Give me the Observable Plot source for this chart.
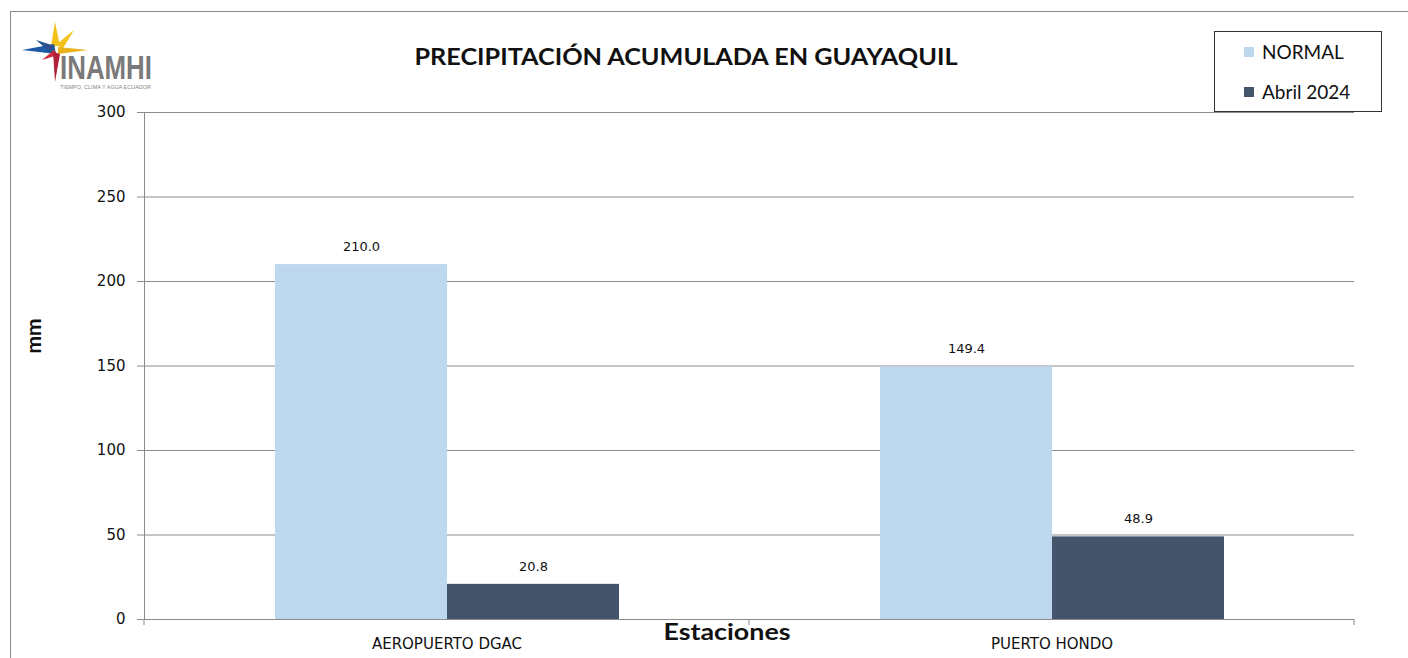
<!DOCTYPE html>
<html>
<head>
<meta charset="utf-8">
<script src="https://cdn.jsdelivr.net/npm/d3@7"></script>
<script src="https://cdn.jsdelivr.net/npm/@observablehq/plot@0.6"></script>
<style>
  html, body { margin: 0; padding: 0; background: #fff; }
  #wrap { position: relative; width: 1408px; height: 658px; overflow: hidden; }
  #border { position: absolute; left: 10px; top: 11px; width: 1420px; height: 700px; border: 1px solid #8a8a8a; box-sizing: border-box; }
  #chart { position: absolute; left: 0; top: 0; }
  #overlay { position: absolute; left: 0; top: 0; pointer-events: none; }
  #legend { position: absolute; left: 1214px; top: 31px; width: 168px; height: 81px; border: 1px solid #333; box-sizing: border-box; background: #fff;
            font-family: Lato, "Open Sans", sans-serif; font-size: 19px; color: #111; }
  .li { position: absolute; left: 29px; display: flex; align-items: center; white-space: nowrap; }
  .sw { width: 10px; height: 10px; margin-right: 8px; display: inline-block; }
</style>
</head>
<body>
<div id="wrap">
  <div id="border"></div>
  <div id="chart"></div>
  <svg id="overlay" width="1408" height="658"></svg>
  <div id="legend"></div>
</div>
<script>
// ---- Data ----
const stations = ["AEROPUERTO DGAC", "PUERTO HONDO"];
const series = ["NORMAL", "Abril 2024"];
const normalValues = [210.0, 149.4];
const abrilValues = [20.8, 48.9];
const yTicks = [0, 50, 100, 150, 200, 250, 300];
const seriesColors = ["#BDD7EE", "#44546A"];
const titleText = "PRECIPITACIÓN ACUMULADA EN GUAYAQUIL";
const yLabel = "mm";
const xLabel = "Estaciones";

const rows = [];
stations.forEach((s, i) => {
  rows.push({station: s, series: series[0], value: normalValues[i]});
  rows.push({station: s, series: series[1], value: abrilValues[i]});
});

const gridColor = "#8c8c8c";

const chart = Plot.plot({
  width: 1408,
  height: 658,
  marginLeft: 144,
  marginRight: 54,
  marginTop: 112,
  marginBottom: 39,
  style: {background: "transparent", overflow: "visible", color: "#111"},
  fx: {domain: stations, padding: 0},
  x: {domain: series, paddingInner: 0, paddingOuter: 0.749, axis: null},
  y: {domain: [0, 300]},
  color: {domain: series, range: seriesColors},
  marks: [
    Plot.gridY(yTicks, {stroke: gridColor, strokeOpacity: 1}),
    Plot.axisY(yTicks, {tickSize: 7, tickPadding: 12, stroke: gridColor, fill: "#111",
      fontSize: 15, fontFamily: "DejaVu Sans", label: null}),
    Plot.axisFx({anchor: "bottom", tickSize: 0, tickPadding: 19, fontSize: 15,
      fontFamily: "DejaVu Sans", label: null, fill: "#111"}),
    Plot.frame({anchor: "left", stroke: gridColor, fx: () => stations[0]}),
    Plot.barY(rows, {fx: "station", x: "series", y: "value", fill: "series"}),
    Plot.text(rows, {fx: "station", x: "series", y: "value", text: d => d.value.toFixed(1),
      dy: -18, fontSize: 13, fontFamily: "DejaVu Sans", fill: "#111"})
  ]
});
document.getElementById("chart").appendChild(chart);

// short tick marks below the axis at each category boundary (from the fx and y scales)
try {
  const fxs = chart.scale("fx");
  const ys = chart.scale("y");
  const y0 = ys.apply(0);
  const edges = new Set();
  fxs.domain.forEach(d => { const s = fxs.apply(d); edges.add(s); edges.add(s + fxs.bandwidth); });
  const g = d3.select(chart).append("g").attr("stroke", gridColor);
  for (const x of edges) {
    g.append("line").attr("x1", x).attr("x2", x).attr("y1", y0).attr("y2", y0 + 6);
  }
} catch (e) { console.error(e); }

// ---- Title, axis labels, logo ----
const ov = d3.select("#overlay");
ov.append("text").attr("x", 686).attr("y", 65).attr("text-anchor", "middle")
  .attr("font-family", "Lato, 'Open Sans', sans-serif").attr("font-weight", "bold")
  .attr("font-size", 22).attr("fill", "#111")
  .attr("textLength", 543).attr("lengthAdjust", "spacingAndGlyphs").text(titleText);
ov.append("text").attr("transform", "translate(41,336) rotate(-90)").attr("text-anchor", "middle")
  .attr("font-family", "Lato, 'Open Sans', sans-serif").attr("font-weight", "bold")
  .attr("font-size", 21).attr("fill", "#111").text(yLabel);
ov.append("text").attr("x", 727).attr("y", 640).attr("text-anchor", "middle")
  .attr("font-family", "Lato, 'Open Sans', sans-serif").attr("font-weight", "bold")
  .attr("font-size", 23).attr("fill", "#111")
  .attr("textLength", 127).attr("lengthAdjust", "spacingAndGlyphs").text(xLabel);

// logo
const logo = ov.append("g");
logo.append("polygon").attr("points", "55,22 51,46 60,46").attr("fill", "#f2c21b");
logo.append("polygon").attr("points", "57,44 74,30 62,50").attr("fill", "#f2c21b");
logo.append("polygon").attr("points", "58,47 88,50 58,54").attr("fill", "#e9b21a");
logo.append("polygon").attr("points", "22,50 54,44 56,54").attr("fill", "#1f5aa6");
logo.append("polygon").attr("points", "36,40 55,46 50,52").attr("fill", "#2b4f8f");
logo.append("polygon").attr("points", "42,60 54,50 58,55").attr("fill", "#d22a3a");
logo.append("polygon").attr("points", "55,82 53,52 60,54").attr("fill", "#b0213a");
logo.append("text").attr("x", 60).attr("y", 79).attr("font-family", "'Liberation Sans Narrow', 'Liberation Sans', sans-serif")
  .attr("font-weight", "bold").attr("font-size", 33).attr("fill", "#7a7a7a")
  .attr("textLength", 92).attr("lengthAdjust", "spacingAndGlyphs").text("INAMHI");
logo.append("text").attr("x", 60).attr("y", 89).attr("font-family", "'Liberation Sans', sans-serif")
  .attr("font-size", 4.5).attr("fill", "#888")
  .attr("textLength", 91).attr("lengthAdjust", "spacingAndGlyphs").text("TIEMPO, CLIMA Y AGUA ECUADOR");

// legend
const leg = d3.select("#legend");
series.forEach((s, i) => {
  const item = leg.append("div").attr("class", "li").style("top", (i === 0 ? 8 : 48) + "px");
  item.append("span").attr("class", "sw").style("background", seriesColors[i]);
  item.append("span").text(s);
});
</script>
</body>
</html>
